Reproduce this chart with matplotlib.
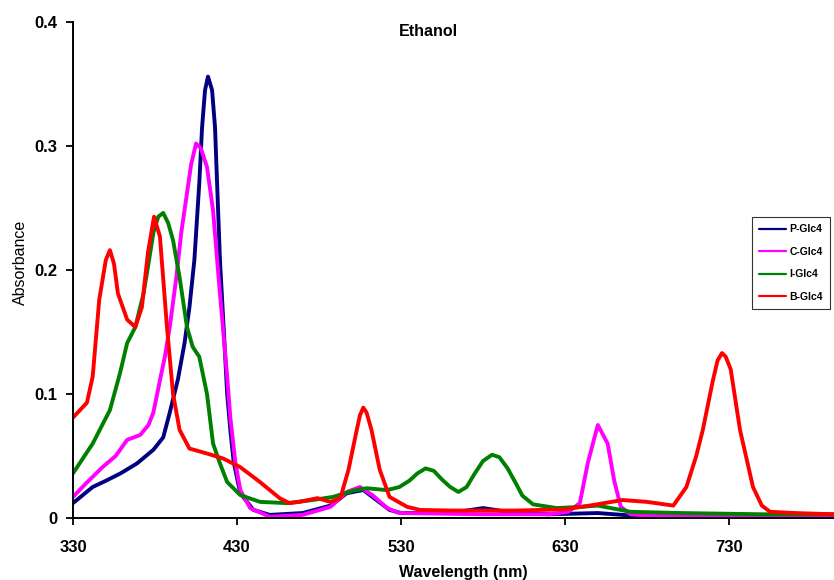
import matplotlib
matplotlib.use("Agg")
import matplotlib.pyplot as plt

plt.rcParams['font.family'] = ['Liberation Sans', 'DejaVu Sans']

# ---- data ----
p_x = [330, 342, 350, 359, 369, 379, 385, 389, 394, 398, 401, 404, 407, 408.7, 410.5, 412.3, 414.8, 416.6,
       418, 419.6, 422, 424, 426, 428, 432, 440, 450, 470, 487, 497, 507, 515, 523, 530, 560, 570, 580,
       590, 600, 620, 650, 670, 700, 794]
p_y = [0.012, 0.025, 0.030, 0.036, 0.044, 0.055, 0.065, 0.085, 0.112, 0.141, 0.170, 0.208, 0.27, 0.315,
       0.345, 0.356, 0.345, 0.315, 0.265, 0.208, 0.15, 0.10, 0.07, 0.045, 0.02, 0.0065, 0.0025, 0.004,
       0.010, 0.020, 0.0226, 0.0145, 0.0065, 0.004, 0.004, 0.006, 0.008, 0.006, 0.004, 0.003, 0.004,
       0.002, 0.001, 0.001]

c_x = [330, 338, 348, 356, 363, 371, 376, 379, 383, 386, 389, 393, 396, 399.5, 402, 405, 408, 411.7, 415.4,
       419.6, 424, 426, 429, 432, 438, 450, 470, 487, 497, 505, 513, 521.5, 529, 580, 620, 632, 639, 644,
       650, 656, 660, 664, 670, 680, 700, 794]
c_y = [0.017, 0.028, 0.041, 0.050, 0.063, 0.067, 0.075, 0.085, 0.111, 0.130, 0.154, 0.194, 0.230, 0.262,
       0.285, 0.302, 0.298, 0.283, 0.248, 0.181, 0.114, 0.080, 0.045, 0.0226, 0.008, 0.001, 0.0025, 0.009,
       0.021, 0.025, 0.018, 0.008, 0.004, 0.003, 0.003, 0.005, 0.012, 0.045, 0.075, 0.060, 0.030, 0.009,
       0.003, 0.002, 0.002, 0.001]

i_x = [330, 342, 352.5, 358.7, 363, 368, 373, 376, 379, 382, 385, 388, 391, 395, 399.5, 403, 407, 411.7,
       415.4, 419.6, 424, 432, 444, 460.5, 476, 488.5, 500.7, 509, 521.5, 529, 535, 540, 545, 550, 555,
       560, 565, 570, 575, 580, 585.5, 590, 595, 600, 604, 610.5, 625, 640, 650, 670, 700, 750, 794]
i_y = [0.036, 0.060, 0.087, 0.117, 0.141, 0.154, 0.181, 0.205, 0.230, 0.243, 0.246, 0.238, 0.224, 0.194,
       0.154, 0.138, 0.130, 0.100, 0.060, 0.044, 0.029, 0.0185, 0.013, 0.012, 0.0145, 0.017, 0.022, 0.024,
       0.0225, 0.025, 0.030, 0.036, 0.040, 0.038, 0.031, 0.025, 0.021, 0.025, 0.036, 0.046, 0.051, 0.049,
       0.040, 0.028, 0.018, 0.011, 0.008, 0.009, 0.010, 0.005, 0.004, 0.003, 0.003]

b_x = [330, 338.5, 342, 346, 350, 352.5, 355, 357.4, 363, 368, 372, 375.7, 379.4, 383, 387.3, 391, 395,
       401, 411.7, 421.5, 432, 444, 456, 462, 468, 479, 487, 493, 498, 503, 505, 507, 509, 512, 517, 523,
       533.7, 541.6, 560, 600, 630, 645, 665, 680, 696, 704, 710, 714, 720, 723, 725.7, 728, 731, 736.7,
       744.6, 750, 755, 770, 794]
b_y = [0.081, 0.093, 0.114, 0.176, 0.208, 0.216, 0.205, 0.181, 0.160, 0.154, 0.170, 0.214, 0.243, 0.227,
       0.154, 0.100, 0.071, 0.056, 0.052, 0.048, 0.041, 0.029, 0.016, 0.012, 0.013, 0.016, 0.013, 0.016,
       0.039, 0.071, 0.083, 0.089, 0.085, 0.071, 0.039, 0.017, 0.009, 0.0065, 0.006, 0.006, 0.007, 0.010,
       0.0145, 0.013, 0.010, 0.025, 0.050, 0.071, 0.110, 0.127, 0.133, 0.130, 0.120, 0.071, 0.025, 0.010,
       0.005, 0.004, 0.003]

series = [("P-Glc4", p_x, p_y, "#000080"),
          ("C-Glc4", c_x, c_y, "#FF00FF"),
          ("I-Glc4", i_x, i_y, "#008000"),
          ("B-Glc4", b_x, b_y, "#FF0000")]

x_ticks = [330, 430, 530, 630, 730]
y_ticks = [0, 0.1, 0.2, 0.3, 0.4]
y_tick_labels = ["0", "0.1", "0.2", "0.3", "0.4"]

# ---- figure ----
W, H = 834, 580
fig = plt.figure(figsize=(W / 100, H / 100), dpi=100)
ax = fig.add_axes([73 / W, 1 - 518 / H, (834 - 73) / W, (518 - 22) / H])

for name, xs, ys, col in series:
    ax.plot(xs, ys, color=col, lw=2.8, label=name, solid_joinstyle='round', solid_capstyle='round')

ax.set_xlim(330, 794)
ax.set_ylim(0, 0.4)
ax.set_xticks(x_ticks)
ax.set_xticklabels([str(t) for t in x_ticks])
ax.set_yticks(y_ticks)
ax.set_yticklabels(y_tick_labels)
for s in ["top", "right"]:
    ax.spines[s].set_visible(False)
for s in ["left", "bottom"]:
    ax.spines[s].set_linewidth(1.4)
ax.tick_params(direction='out', length=5, width=1.3, labelsize=12)
ax.tick_params(axis='x', pad=11)
ax.tick_params(axis='y', pad=6)
for lab in ax.get_xticklabels() + ax.get_yticklabels():
    lab.set_fontweight('bold')

fig.text(463 / W, 1 - 572 / H, "Wavelength (nm)", fontsize=11.5, fontweight='bold',
         ha='center', va='center')
fig.text(20 / W, 1 - 262 / H, "Absorbance", fontsize=11.5, rotation=90, ha='center', va='center')
fig.text(428 / W, 1 - 32 / H, "Ethanol", fontsize=11.5, fontweight='bold', ha='center', va='center')

leg = ax.legend(loc='upper left', bbox_to_anchor=(752 / W, 1 - 217 / H), bbox_transform=fig.transFigure,
                fontsize=7.5, frameon=True, fancybox=False, handlelength=2.6, handletextpad=0.3,
                labelspacing=1.2, borderpad=0.7, borderaxespad=0)
leg.get_frame().set_edgecolor('black')
leg.get_frame().set_linewidth(0.8)
for t in leg.get_texts():
    t.set_fontweight('bold')
for l in leg.get_lines():
    l.set_linewidth(1.6)

fig.savefig("out.png", dpi=100)
